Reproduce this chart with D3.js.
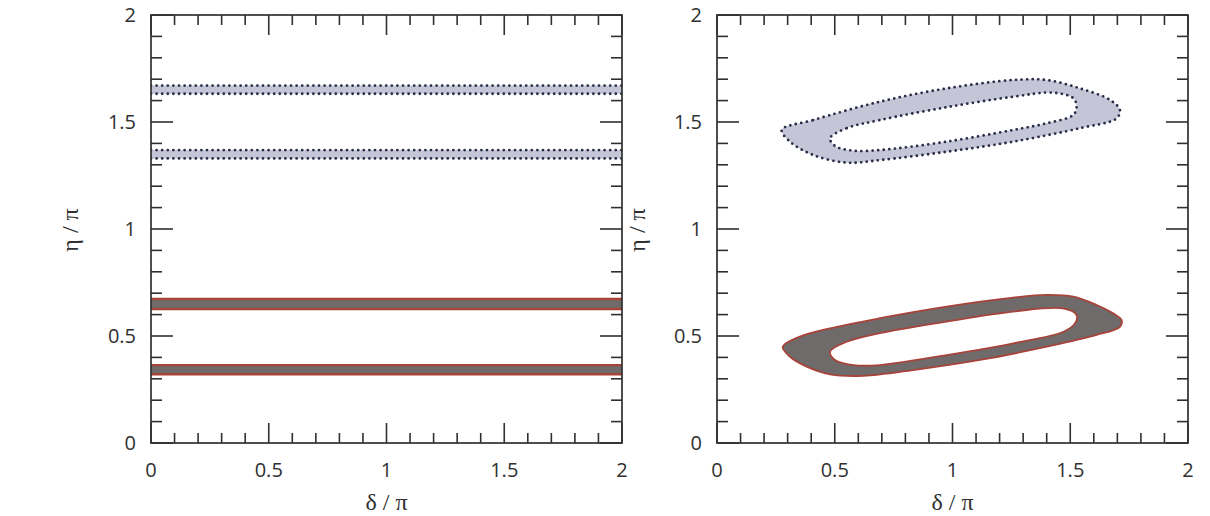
<!DOCTYPE html>
<html>
<head>
<meta charset="utf-8">
<script src="https://cdn.jsdelivr.net/npm/d3@7"></script>
<style>
    body { margin: 0; background: #fff; }
    svg { display: block; }
</style>
</head>
<body>
<svg id="chart" width="1210" height="516"></svg>
<script>
// axis values (delta / pi and eta / pi)
var tickLabels = ["0", "0.5", "1", "1.5", "2"];
var majorTicks = [0, 0.5, 1, 1.5, 2];

// left panel: horizontal allowed bands, [eta low, eta high]
var redBands = [[0.321, 0.364], [0.626, 0.673]];
var blueBands = [[1.330, 1.369], [1.632, 1.670]];

// right panel: contour rings, [delta, eta]
var redOuter = [
    [0.279, 0.450], [0.352, 0.497], [0.480, 0.536], [0.692, 0.583], [0.975, 0.637],
    [1.257, 0.679], [1.400, 0.692], [1.513, 0.684], [1.612, 0.645], [1.682, 0.606],
    [1.718, 0.575], [1.711, 0.543], [1.612, 0.505], [1.400, 0.450], [1.117, 0.388],
    [0.834, 0.341], [0.621, 0.314], [0.480, 0.321], [0.381, 0.357], [0.310, 0.403]
];
var redInner = [
    [0.480, 0.427], [0.551, 0.473], [0.692, 0.513], [0.975, 0.567], [1.257, 0.614],
    [1.469, 0.629], [1.527, 0.598], [1.520, 0.559], [1.471, 0.520], [1.258, 0.466],
    [0.975, 0.411], [0.692, 0.364], [0.579, 0.364], [0.501, 0.388]
];
var blueOuter = [
    [0.275, 1.463], [0.408, 1.509], [0.692, 1.595], [0.975, 1.657], [1.257, 1.696],
    [1.400, 1.696], [1.541, 1.657], [1.669, 1.603], [1.711, 1.556], [1.697, 1.517],
    [1.541, 1.471], [1.257, 1.408], [0.975, 1.361], [0.692, 1.322], [0.551, 1.310],
    [0.408, 1.346], [0.310, 1.408]
];
var blueInner = [
    [0.480, 1.424], [0.551, 1.471], [0.692, 1.509], [0.975, 1.569], [1.258, 1.618],
    [1.428, 1.637], [1.513, 1.611], [1.527, 1.572], [1.513, 1.533], [1.400, 1.494],
    [1.258, 1.463], [0.975, 1.408], [0.692, 1.369], [0.579, 1.366], [0.501, 1.388]
];

var svg = d3.select("#chart");

var top_ = 15, bottom = 443;
var panels = [
    { id: "left", x0: 151, x1: 622, ytitle: 78 },
    { id: "right", x0: 717, x1: 1188, ytitle: 645 }
];

var yScale = d3.scaleLinear().domain([0, 2]).range([bottom, top_]);

var redFill = "#6f6b6b", redLine = "#a8433a";
var blueFill = "#c4c5d6", blueLine = "#2a2c48";
var ink = "#303030";

panels.forEach(function(p) {
    var x = d3.scaleLinear().domain([0, 2]).range([p.x0, p.x1]);
    var g = svg.append("g");

    g.append("clipPath").attr("id", "clip-" + p.id)
        .append("rect")
        .attr("x", p.x0).attr("y", top_)
        .attr("width", p.x1 - p.x0).attr("height", bottom - top_);

    var plot = g.append("g").attr("clip-path", "url(#clip-" + p.id + ")");

    if (p.id == "left") {
        // flat bands across the whole delta range
        var ends = x.domain();
        var drawBand = function(band, fill, line, dotted) {
            plot.append("path")
                .datum(ends)
                .attr("d", d3.area().x(d => x(d)).y0(yScale(band[0])).y1(yScale(band[1])))
                .attr("fill", fill);
            band.forEach(function(v) {
                var l = plot.append("path")
                    .datum(ends)
                    .attr("d", d3.line().x(d => x(d)).y(yScale(v)))
                    .attr("fill", "none")
                    .attr("stroke", line);
                if (dotted) {
                    l.attr("stroke-width", 2.8)
                        .attr("stroke-dasharray", "0 5.6")
                        .attr("stroke-linecap", "round");
                } else {
                    l.attr("stroke-width", 2.4);
                }
            });
        };
        redBands.forEach(b => drawBand(b, redFill, redLine, false));
        blueBands.forEach(b => drawBand(b, blueFill, blueLine, true));
    } else {
        var ring = d3.line()
            .x(d => x(d[0]))
            .y(d => yScale(d[1]))
            .curve(d3.curveCatmullRomClosed.alpha(0.5));

        plot.append("path")
            .attr("d", ring(redOuter) + ring(redInner))
            .attr("fill", redFill)
            .attr("fill-rule", "evenodd")
            .attr("stroke", redLine)
            .attr("stroke-width", 1.8);

        plot.append("path")
            .attr("d", ring(blueOuter) + ring(blueInner))
            .attr("fill", blueFill)
            .attr("fill-rule", "evenodd")
            .attr("stroke", blueLine)
            .attr("stroke-width", 2.8)
            .attr("stroke-dasharray", "0 5.6")
            .attr("stroke-linecap", "round");
    }

    // inside ticks on all four sides
    var minor = x.ticks(20);
    var isMajor = v => majorTicks.some(m => Math.abs(m - v) < 1e-6);
    var tickG = g.append("g").attr("stroke", ink).attr("stroke-width", 1.6);
    minor.forEach(function(v) {
        var lx = isMajor(v) ? 20 : 10;
        var ly = isMajor(v) ? 22 : 11;
        // bottom and top
        tickG.append("line").attr("x1", x(v)).attr("x2", x(v)).attr("y1", bottom).attr("y2", bottom - lx);
        tickG.append("line").attr("x1", x(v)).attr("x2", x(v)).attr("y1", top_).attr("y2", top_ + lx);
        // left and right
        tickG.append("line").attr("x1", p.x0).attr("x2", p.x0 + ly).attr("y1", yScale(v)).attr("y2", yScale(v));
        tickG.append("line").attr("x1", p.x1).attr("x2", p.x1 - ly).attr("y1", yScale(v)).attr("y2", yScale(v));
    });

    // frame
    g.append("rect")
        .attr("x", p.x0).attr("y", top_)
        .attr("width", p.x1 - p.x0).attr("height", bottom - top_)
        .attr("fill", "none")
        .attr("stroke", ink)
        .attr("stroke-width", 1.7);

    // tick labels
    majorTicks.forEach(function(v, i) {
        g.append("text")
            .attr("x", x(v)).attr("y", 477)
            .attr("text-anchor", "middle")
            .attr("font-family", "'Open Sans', sans-serif")
            .attr("font-size", 20)
            .attr("fill", ink)
            .text(tickLabels[i]);
        g.append("text")
            .attr("x", p.x0 - 15).attr("y", yScale(v) + 7)
            .attr("text-anchor", "end")
            .attr("font-family", "'Open Sans', sans-serif")
            .attr("font-size", 20)
            .attr("fill", ink)
            .text(tickLabels[i]);
    });

    // axis titles
    g.append("text")
        .attr("x", (p.x0 + p.x1) / 2).attr("y", 510)
        .attr("text-anchor", "middle")
        .attr("font-family", "'Liberation Serif', serif")
        .attr("font-size", 24)
        .attr("fill", ink)
        .text("δ / π");
    g.append("text")
        .attr("transform", "translate(" + p.ytitle + "," + 230 + ") rotate(-90)")
        .attr("text-anchor", "middle")
        .attr("font-family", "'Liberation Serif', serif")
        .attr("font-size", 24)
        .attr("fill", ink)
        .text("η / π");
});
</script>
</body>
</html>
